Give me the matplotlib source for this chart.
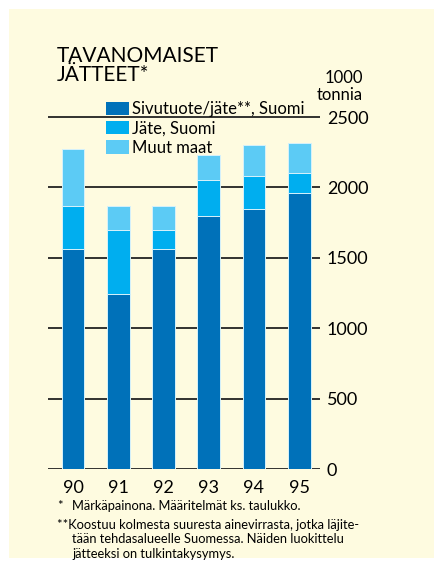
import matplotlib
matplotlib.use("Agg")
import matplotlib.pyplot as plt
import matplotlib.patches as mpatches
import numpy as np

plt.rcParams['font.family'] = ['Lato', 'DejaVu Sans']

# tuhatta tonnia
vuodet = ['90', '91', '92', '93', '94', '95']
sivutuote = [1565, 1240, 1565, 1795, 1845, 1960]
jate_suomi = [305, 455, 135, 255, 235, 145]
muut_maat = [400, 175, 170, 180, 220, 210]
yticks = [0, 500, 1000, 1500, 2000, 2500]

sarjat = ['Sivutuote/jäte**, Suomi', 'Jäte, Suomi', 'Muut maat']
varit = ['#0071b9', '#00aeef', '#5ccbf5']
tausta = '#fefbe0'

W, H = 434, 567
fig = plt.figure(figsize=(W / 100, H / 100), dpi=100)
fig.patch.set_facecolor('white')

# keltainen taustalaatikko
fig.patches.append(mpatches.Rectangle((9 / W, 1 - 558 / H), 1, (558 - 9) / H,
                                      transform=fig.transFigure, facecolor=tausta,
                                      edgecolor='none', zorder=-10))

# akseli pikseleinä: vasen 48, oikea 320, nolla 469, 2500 -> 117
px_per = (469 - 117) / 2500
ymax = 2800
top_px = 469 - ymax * px_per
ax = fig.add_axes([48 / W, 1 - 469 / H, (320 - 48) / W, (469 - top_px) / H])
ax.set_facecolor('none')
for s in ax.spines.values():
    s.set_visible(False)

x = np.arange(len(vuodet))
ax.set_xlim(-0.553, 5.46)
ax.set_ylim(0, ymax)

for y in yticks:
    ax.axhline(y, color='#222222', lw=1.3, zorder=1)

leveys = 0.5
pohja = np.zeros(len(vuodet))
for arvot, vari in zip([sivutuote, jate_suomi, muut_maat], varit):
    ax.bar(x, arvot, leveys, bottom=pohja, color=vari, edgecolor='#d6f1fb',
           linewidth=0.7, zorder=2)
    pohja = pohja + np.array(arvot)

ax.set_xticks(x)
ax.set_xticklabels(vuodet, fontsize=13)
ax.tick_params(axis='x', length=0, pad=8)
ax.yaxis.tick_right()
ax.set_yticks(yticks)
ax.set_yticklabels([str(v) for v in yticks], fontsize=13)
ax.tick_params(axis='y', length=0, pad=5)

fig.text(363 / W, 1 - 70 / H, '1000\ntonnia', ha='right', va='top', fontsize=12,
         linespacing=1.1)

fig.text(57 / W, 1 - 46 / H, 'TAVANOMAISET\nJÄTTEET*', ha='left', va='top',
         fontsize=15, linespacing=0.95)

kahvat = [mpatches.Patch(facecolor=c, edgecolor='none') for c in varit]
fig.legend(kahvat, sarjat, loc='upper left', bbox_to_anchor=(106 / W, 1 - 101 / H),
           frameon=False, fontsize=12, handlelength=1.4, handleheight=0.85,
           handletextpad=0.15, labelspacing=0.2, borderpad=0, borderaxespad=0)

alaviite = [
    (57, 506, '*'),
    (72, 506, 'Märkäpainona. Määritelmät ks. taulukko.'),
    (57, 525, '**Koostuu kolmesta suuresta ainevirrasta, jotka läjite-'),
    (72, 539, 'tään tehdasalueelle Suomessa. Näiden luokittelu'),
    (72, 554, 'jätteeksi on tulkintakysymys.'),
]
for px, py, teksti in alaviite:
    fig.text(px / W, 1 - py / H, teksti, ha='left', va='center', fontsize=9.3)

fig.savefig('out.png', dpi=100, facecolor='white')
